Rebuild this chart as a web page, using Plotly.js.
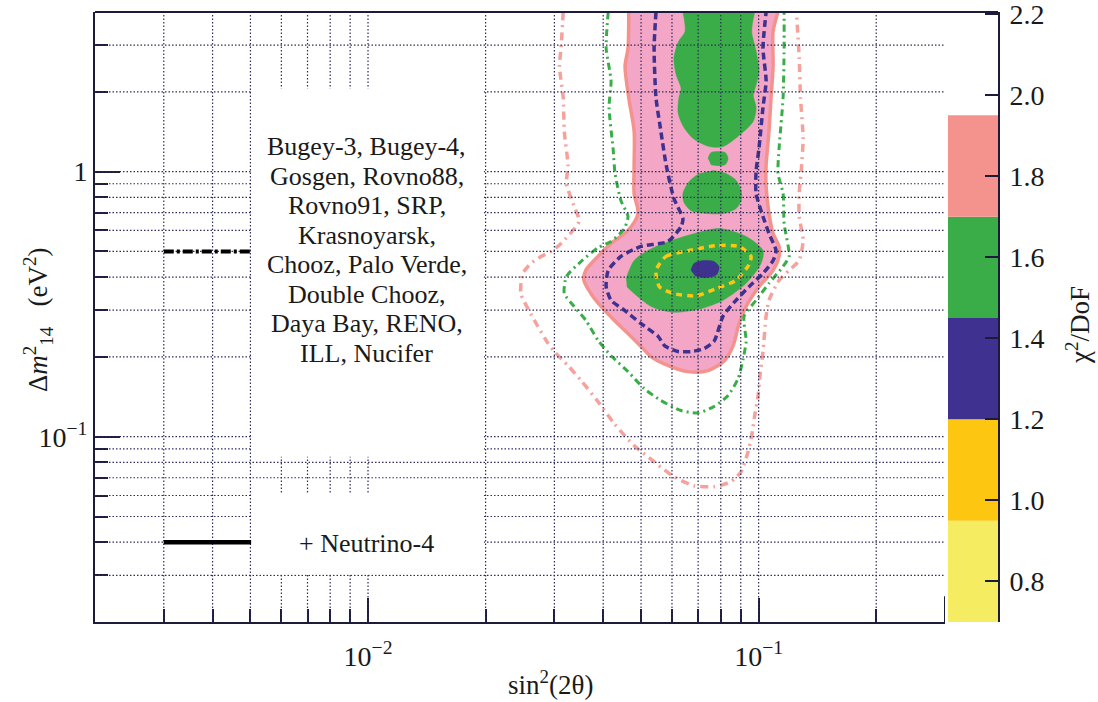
<!DOCTYPE html>
<html><head><meta charset="utf-8">
<script src="https://cdn.plot.ly/plotly-3.0.1.min.js"></script>
<style>html,body{margin:0;padding:0;background:#fff}</style>
</head><body><div id="chart" style="width:1098px;height:702px"></div>
<script>
// ---------- axes / ticks ----------
const xTicksMajor = [0.01, 0.1];
const xTickLabels = ['10<sup>\u22122</sup>', '10<sup>\u22121</sup>'];
const xTicksMinor = [0.003,0.004,0.005,0.006,0.007,0.008,0.009,0.02,0.03,0.04,0.05,0.06,0.07,0.08,0.09,0.2,0.3];
const yTicksMajor = [0.1, 1];
const yTickLabels = ['10<sup>\u22121</sup>', '1'];
const yTicksMinor = [0.03,0.04,0.05,0.06,0.07,0.08,0.09,0.2,0.3,0.4,0.5,0.6,0.7,0.8,0.9,2,3];
const gridX = [0.003,0.004,0.005,0.006,0.007,0.008,0.009,0.01,0.02,0.03,0.04,0.05,0.06,0.07,0.08,0.09,0.1,0.2];
const gridY = [0.03,0.04,0.05,0.06,0.07,0.08,0.09,0.1,0.2,0.3,0.4,0.5,0.6,0.7,0.8,0.9,1,2,3];

// ---------- colour scale (chi2/DoF) ----------
const levelLow = [0.7, 0.95, 1.2, 1.45, 1.7];
const levelSize = [0.25, 0.25, 0.25, 0.25, 0.25];
const levelColors = ['#F5EC62', '#FDC610', '#3F3190', '#3AAD48', '#F4938E'];
const cbTicks = [0.8, 1.0, 1.2, 1.4, 1.6, 1.8, 2.0, 2.2];
const cbLabels = ['0.8', '1.0', '1.2', '1.4', '1.6', '1.8', '2.0', '2.2'];

// ---------- contour regions (sin^2(2theta), dm^2_14) ----------
const pinkX = [0.0465,0.0463,0.0455,0.0465,0.048,0.048,0.048,0.0491,0.0463,0.0419,0.0388,0.0361,0.0357,0.0372,0.0395,0.0427,0.0463,0.050,0.0531,0.0587,0.066,0.0742,0.0818,0.086,0.0891,0.0929,0.1002,0.1089,0.1128,0.1128,0.1089,0.1063,0.1045,0.1045,0.1063,0.1076,0.1089,0.1089,0.1121];
const pinkY = [4.0,2.92,2.5,1.90,1.42,1.055,0.827,0.695,0.60,0.536,0.479,0.424,0.389,0.347,0.31,0.275,0.245,0.219,0.20,0.1855,0.176,0.1775,0.194,0.22,0.267,0.31,0.368,0.424,0.479,0.522,0.584,0.695,0.879,1.055,1.42,1.90,2.5,3.38,4.0];

const greenColX = [0.064,0.0648,0.0624,0.0607,0.0615,0.0633,0.0625,0.0622,0.064,0.068,0.0747,0.0811,0.0891,0.0969,0.0985,0.0969,0.0985,0.1002,0.0985,0.096,0.0977];
const greenColY = [4.0,3.38,3.1,2.68,2.32,2.06,1.90,1.67,1.49,1.333,1.243,1.243,1.368,1.55,1.746,1.94,2.12,2.39,2.85,3.38,4.0];

const greenSmallX = [0.0742,0.0755,0.0789,0.0821,0.0835,0.0821,0.0789,0.0755];
const greenSmallY = [1.12,1.18,1.19,1.18,1.12,1.062,1.053,1.062];

const greenMidX = [0.0764,0.0825,0.0876,0.0902,0.0902,0.0876,0.0811,0.0735,0.0671,0.0644,0.064,0.0664,0.0704];
const greenMidY = [1.01,0.983,0.926,0.849,0.778,0.726,0.695,0.695,0.713,0.766,0.827,0.917,0.983];

const greenBigX = [0.0458,0.048,0.0521,0.0562,0.0671,0.0792,0.0929,0.1026,0.1014,0.0929,0.0811,0.0712,0.0604,0.0531,0.048,0.046];
const greenBigY = [0.395,0.462,0.504,0.531,0.579,0.61,0.569,0.504,0.45,0.379,0.327,0.304,0.295,0.31,0.347,0.368];

const bestFitX = [0.0671,0.0683,0.0721,0.0769,0.0792,0.078,0.0729,0.0687];
const bestFitY = [0.424,0.45,0.462,0.458,0.437,0.408,0.398,0.405];

// ---------- dashed contour lines ----------
const salmonLineX = [0.0316,0.0312,0.0309,0.0316,0.0318,0.0325,0.0322,0.0337,0.0347,0.0312,0.0294,0.0278,0.0261,0.0249,0.0246,0.0258,0.0272,0.0289,0.0300,0.0325,0.0351,0.0388,0.0427,0.048,0.054,0.0607,0.0683,0.0769,0.085,0.0902,0.094,0.096,0.0977,0.0997,0.1008,0.1026,0.1045,0.1063,0.1128,0.1197,0.1269,0.130,0.127,0.127,0.1284,0.130,0.128,0.127,0.125];
const salmonLineY = [4.0,2.92,2.5,1.90,1.42,1.055,0.9,0.739,0.65,0.536,0.5,0.479,0.45,0.413,0.347,0.30,0.261,0.225,0.2095,0.1855,0.163,0.1356,0.112,0.0926,0.0805,0.0706,0.0653,0.0648,0.0677,0.0738,0.0879,0.101,0.12,0.143,0.170,0.2095,0.285,0.327,0.389,0.424,0.462,0.55,0.677,0.827,0.983,1.333,1.90,2.68,4.0];

const greenLineX = [0.0412,0.0407,0.0419,0.0414,0.0424,0.0429,0.0444,0.0463,0.0453,0.0419,0.0388,0.0351,0.0322,0.0318,0.0337,0.0361,0.0388,0.0419,0.0463,0.0509,0.0562,0.0633,0.070,0.0769,0.0835,0.0886,0.0913,0.0929,0.0918,0.0985,0.1063,0.1155,0.1197,0.1162,0.1155,0.1121,0.1128,0.1155,0.1162,0.1162];
const greenLineY = [4.0,2.92,2.20,1.746,1.222,0.983,0.778,0.677,0.61,0.545,0.517,0.458,0.402,0.347,0.31,0.275,0.231,0.202,0.176,0.152,0.137,0.1255,0.123,0.13,0.143,0.1657,0.197,0.229,0.285,0.327,0.379,0.439,0.479,0.637,0.827,0.983,1.222,1.90,2.92,4.0];

const blueLineX = [0.0546,0.054,0.0546,0.0562,0.058,0.0607,0.064,0.0633,0.0586,0.050,0.0444,0.0412,0.0407,0.0419,0.0453,0.050,0.0553,0.0575,0.0622,0.0672,0.0725,0.0769,0.0811,0.0875,0.0945,0.1026,0.1089,0.1108,0.1063,0.1026,0.0985,0.0985,0.1002,0.1026,0.1045,0.1026,0.1045];
const blueLineY = [4.0,2.92,1.90,1.42,1.055,0.792,0.665,0.62,0.545,0.522,0.479,0.424,0.368,0.327,0.30,0.267,0.239,0.22,0.2095,0.2095,0.215,0.229,0.285,0.327,0.368,0.413,0.462,0.503,0.584,0.677,0.827,1.0,1.222,1.746,2.20,2.92,4.0];

const yellowLineX = [0.0546,0.0579,0.0664,0.078,0.0891,0.0956,0.0945,0.0875,0.078,0.0691,0.0604,0.0557,0.0546];
const yellowLineY = [0.424,0.479,0.504,0.526,0.522,0.479,0.446,0.389,0.362,0.34,0.347,0.368,0.424];

// ---------- legend text ----------
const legendLines = ['Bugey-3, Bugey-4,', 'Gosgen, Rovno88,', 'Rovno91, SRP,', 'Krasnoyarsk,', 'Chooz, Palo Verde,', 'Double Chooz,', 'Daya Bay, RENO,', 'ILL, Nucifer'];
const legendLine2 = '+ Neutrino-4';

// ---------- build ----------
const FONT = 'Liberation Serif, Times New Roman, serif';
const INK = '#1d1b3c';
const GRID = '#2e2c5c';
const TXT = '#1a1a1a';

function region(x, y, fill, lineColor, lw) {
  return {type:'scatter', mode:'lines', x:x, y:y, fill:'toself', fillcolor:fill,
    line:{color:lineColor, width:lw, shape:'spline', smoothing:0.8},
    hoverinfo:'skip', showlegend:false, xaxis:'x', yaxis:'y'};
}
function dashed(x, y, color, lw, dash) {
  return {type:'scatter', mode:'lines', x:x, y:y,
    line:{color:color, width:lw, dash:dash, shape:'spline', smoothing:0.6},
    hoverinfo:'skip', showlegend:false, xaxis:'x', yaxis:'y'};
}

const traces = [
  region(pinkX, pinkY, '#F3A6C5', '#F4938E', 3.5),
  region(greenColX, greenColY, '#3AAD48', '#3AAD48', 0.5),
  region(greenSmallX, greenSmallY, '#3AAD48', '#3AAD48', 0.5),
  region(greenMidX, greenMidY, '#3AAD48', '#3AAD48', 0.5),
  region(greenBigX, greenBigY, '#3AAD48', '#3AAD48', 0.5),
  dashed(salmonLineX, salmonLineY, '#F5A29C', 3.5, '8px,5px,2px,5px'),
  dashed(greenLineX, greenLineY, '#3AAD48', 3, '7px,4px,2px,4px'),
  dashed(blueLineX, blueLineY, '#3F3190', 3.5, '7px,4px'),
  dashed(yellowLineX, yellowLineY, '#FDC610', 3.5, '6px,5px'),
  region(bestFitX, bestFitY, '#3F3190', '#3F3190', 0.5),
  {type:'bar', x:levelLow.map(() => 0), y:levelSize, base:levelLow, width:1,
   marker:{color:levelColors, line:{width:0}}, xaxis:'x2', yaxis:'y2',
   hoverinfo:'skip', showlegend:false}
];

const shapes = [];
gridX.forEach(v => shapes.push({type:'line', xref:'x', yref:'paper', x0:v, x1:v, y0:0, y1:1,
  line:{color:GRID, width:1.2, dash:'1.5px,2px'}, layer:'above'}));
gridY.forEach(v => shapes.push({type:'line', xref:'x', yref:'y', x0:0.002, x1:0.3, y0:v, y1:v,
  line:{color:GRID, width:1.2, dash:'1.5px,2px'}, layer:'above'}));
// legend boxes
shapes.push({type:'rect', xref:'x', yref:'y', x0:0.00502, x1:0.0198, y0:0.084, y1:2.06,
  fillcolor:'#ffffff', line:{width:0}, layer:'above'});
shapes.push({type:'rect', xref:'x', yref:'y', x0:0.00502, x1:0.0198, y0:0.0302, y1:0.061,
  fillcolor:'#ffffff', line:{width:0}, layer:'above'});
// legend line samples
shapes.push({type:'line', xref:'x', yref:'y', x0:0.003, x1:0.00502, y0:0.5, y1:0.5,
  line:{color:'#000', width:4, dash:'10px,3px,3px,3px'}, layer:'above'});
shapes.push({type:'line', xref:'x', yref:'y', x0:0.003, x1:0.00502, y0:0.04, y1:0.04,
  line:{color:'#000', width:4.5}, layer:'above'});
// top frame line across plot and colour bar
shapes.push({type:'line', xref:'paper', yref:'paper', x0:0, x1:1, y0:1, y1:1,
  line:{color:INK, width:2}, layer:'above'});
// small right-edge mark
shapes.push({type:'line', xref:'x', yref:'y', x0:0.3, x1:0.3, y0:0.02, y1:0.025,
  line:{color:INK, width:2}, layer:'above'});

const annotations = [];
const lineTop = 146.7, lineStep = 29.5; // pixel layout of legend text
legendLines.forEach((t, i) => annotations.push({text:t, xref:'paper', yref:'paper',
  x:(366.5-95)/903, y:(622-(lineTop + i*lineStep))/610, xanchor:'center', yanchor:'middle',
  showarrow:false, font:{family:FONT, size:26, color:TXT}}));
annotations.push({text:legendLine2, xref:'paper', yref:'paper', x:(366.5-95)/903, y:(622-543)/610,
  xanchor:'center', yanchor:'middle', showarrow:false, font:{family:FONT, size:26, color:TXT}});
annotations.push({text:'sin<sup>2</sup>(2\u03b8)', xref:'paper', yref:'paper', x:(550-95)/903, y:(622-683)/610,
  xanchor:'center', yanchor:'middle', showarrow:false, font:{family:FONT, size:27, color:TXT}});
annotations.push({text:'\u0394<i>m</i><sup>2</sup><sub>14</sub>\u00a0\u00a0\u00a0(eV<sup>2</sup>)', xref:'paper', yref:'paper',
  x:(38-95)/903, y:(622-320)/610, xanchor:'center', yanchor:'middle', textangle:-90,
  showarrow:false, font:{family:FONT, size:27, color:TXT}});
annotations.push({text:'\u03c7<sup>2</sup>/DoF', xref:'paper', yref:'paper',
  x:(1078-95)/903, y:(622-325)/610, xanchor:'center', yanchor:'middle', textangle:-90,
  showarrow:false, font:{family:FONT, size:27, color:TXT}});

const layout = {
  width:1098, height:702,
  margin:{l:95, r:100, t:12, b:80},
  paper_bgcolor:'#fff', plot_bgcolor:'#fff',
  showlegend:false,
  xaxis:{type:'log', domain:[0, 850/903], range:[Math.log10(0.002), Math.log10(0.3)],
    showgrid:false, zeroline:false, showline:true, linecolor:INK, linewidth:2,
    tickmode:'array', tickvals:xTicksMajor, ticktext:xTickLabels,
    ticks:'inside', ticklen:24, tickwidth:2, tickcolor:INK, ticklabelstandoff:8,
    tickfont:{family:FONT, size:28, color:TXT},
    minor:{tickmode:'array', tickvals:xTicksMinor, ticks:'inside', ticklen:13, tickwidth:2, tickcolor:INK, showgrid:false},
    anchor:'y'},
  yaxis:{type:'log', domain:[0,1], range:[Math.log10(0.02), Math.log10(4)],
    showgrid:false, zeroline:false, showline:true, linecolor:INK, linewidth:2,
    tickmode:'array', tickvals:yTicksMajor, ticktext:yTickLabels,
    ticks:'inside', ticklen:25, tickwidth:2, tickcolor:INK,
    tickfont:{family:FONT, size:28, color:TXT},
    minor:{tickmode:'array', tickvals:yTicksMinor, ticks:'inside', ticklen:13, tickwidth:2, tickcolor:INK, showgrid:false},
    anchor:'x'},
  xaxis2:{domain:[(948-95)/903, 1], range:[-0.5, 0.5], visible:false, anchor:'y2', fixedrange:true},
  yaxis2:{domain:[0,1], anchor:'x2', side:'right', range:[0.7, 2.205],
    showgrid:false, zeroline:false, showline:true, linecolor:INK, linewidth:2,
    tickmode:'array', tickvals:cbTicks, ticktext:cbLabels,
    ticks:'inside', ticklen:13, tickwidth:2, tickcolor:INK, ticklabelstandoff:4,
    ticklabeloverflow:'allow',
    tickfont:{family:FONT, size:28, color:TXT}},
  shapes:shapes,
  annotations:annotations
};

Plotly.newPlot('chart', traces, layout, {displayModeBar:false, staticPlot:true});
</script>
</body></html>
